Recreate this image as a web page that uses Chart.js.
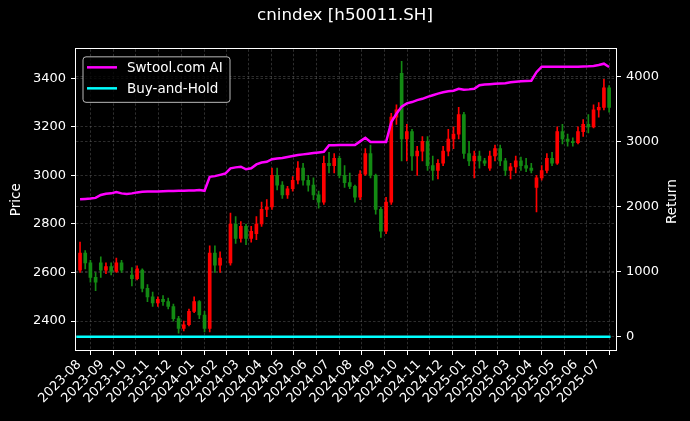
<!DOCTYPE html>
<html lang="en">
<head>
<meta charset="UTF-8">
<title>cnindex [h50011.SH]</title>
<script src="https://cdn.jsdelivr.net/npm/chart.js@4"></script>
<style>
  body { margin: 0; background: #000; }
  #wrap { width: 690px; height: 421px; position: relative; }
</style>
</head>
<body>
<div id="wrap"><canvas id="chart"></canvas></div>
<script>
const TITLE = 'cnindex [h50011.SH]';

// weekly candles (Monday of each week)
const WEEKS = [
  '2023-07-31','2023-08-07','2023-08-14','2023-08-21','2023-08-28','2023-09-04','2023-09-11','2023-09-18','2023-09-25','2023-10-02',
  '2023-10-09','2023-10-16','2023-10-23','2023-10-30','2023-11-06','2023-11-13','2023-11-20','2023-11-27','2023-12-04','2023-12-11',
  '2023-12-18','2023-12-25','2024-01-01','2024-01-08','2024-01-15','2024-01-22','2024-01-29','2024-02-05','2024-02-12','2024-02-19',
  '2024-02-26','2024-03-04','2024-03-11','2024-03-18','2024-03-25','2024-04-01','2024-04-08','2024-04-15','2024-04-22','2024-04-29',
  '2024-05-06','2024-05-13','2024-05-20','2024-05-27','2024-06-03','2024-06-10','2024-06-17','2024-06-24','2024-07-01','2024-07-08',
  '2024-07-15','2024-07-22','2024-07-29','2024-08-05','2024-08-12','2024-08-19','2024-08-26','2024-09-02','2024-09-09','2024-09-16',
  '2024-09-23','2024-09-30','2024-10-07','2024-10-14','2024-10-21','2024-10-28','2024-11-04','2024-11-11','2024-11-18','2024-11-25',
  '2024-12-02','2024-12-09','2024-12-16','2024-12-23','2024-12-30','2025-01-06','2025-01-13','2025-01-20','2025-01-27','2025-02-03',
  '2025-02-10','2025-02-17','2025-02-24','2025-03-03','2025-03-10','2025-03-17','2025-03-24','2025-03-31','2025-04-07','2025-04-14',
  '2025-04-21','2025-04-28','2025-05-05','2025-05-12','2025-05-19','2025-05-26','2025-06-02','2025-06-09','2025-06-16','2025-06-23',
  '2025-06-30','2025-07-07','2025-07-14'
];

const OPEN = [
  2610,2680,2640,2580,2640,2610,2625,2605,2640,null,
  2590,2575,2610,2535,2500,2475,2490,2480,2460,2410,
  2370,2385,2440,2480,2425,2370,2680,2630,null,2640,
  2800,2740,2790,2740,2760,2800,2860,2870,3000,2960,
  2920,2945,2980,3030,2980,2960,2920,2890,3050,3040,
  3070,3000,2970,2955,2910,3005,3090,3000,2860,2770,
  2890,3240,3420,3150,3180,3080,3100,3140,3040,3020,
  3050,3100,3150,3170,3250,3090,3060,3080,3060,3030,
  3080,3110,3060,3020,3035,3060,3040,3030,2950,2990,
  3020,3070,3050,3180,3150,3140,3135,3180,3210,3200,
  3270,3280,3360
];
const HIGH = [
  2725,2690,2650,2600,2665,2640,2640,2660,2650,null,
  2620,2628,2615,2550,2520,2500,2505,2495,2470,2420,
  2400,2450,2500,2485,2440,2710,2710,2685,null,2845,
  2830,2810,2800,2790,2830,2890,2900,3030,3030,2975,
  2955,2995,3057,3050,3000,2990,2935,3080,3095,3090,
  3080,3040,3010,2960,3020,3110,3125,3005,2870,2910,
  3255,3290,3470,3210,3190,3120,3160,3160,3080,3065,
  3120,3190,3200,3280,3260,3140,3100,3100,3070,3100,
  3125,3125,3070,3050,3080,3075,3070,3050,3000,3040,
  3090,3095,3200,3210,3170,3155,3200,3230,3250,3290,
  3300,3395,3370
];
const LOW = [
  2600,2615,2560,2525,2580,2595,2590,2600,2600,null,
  2545,2570,2520,2480,2460,2460,2465,2450,2400,2350,
  2360,2380,2435,2410,2355,2355,2600,2600,null,2630,
  2720,2725,2715,2725,2735,2790,2830,2860,2940,2905,
  2905,2935,2965,2960,2935,2900,2865,2880,3010,3010,
  2990,2950,2945,2890,2900,3000,2990,2840,2745,2760,
  2880,3210,3060,3060,3020,3000,3060,3020,2980,2985,
  3040,3080,3110,3150,3070,3040,2990,3030,3040,3020,
  3060,3040,3000,2985,3010,3020,3015,3010,2850,2980,
  3010,3040,3045,3130,3120,3120,3130,3160,3175,3195,
  3240,3270,3260
];
const CLOSE = [
  2680,2640,2580,2560,2610,2625,2605,2640,2610,null,
  2575,2615,2535,2500,2475,2490,2480,2460,2410,2370,
  2385,2440,2480,2425,2370,2680,2630,2660,null,2800,
  2740,2790,2740,2770,2800,2860,2870,3000,2960,2920,
  2945,2980,3030,2980,2960,2920,2890,3050,3040,3070,
  3000,2970,2955,2910,3005,3090,3000,2860,2770,2890,
  3240,3270,3150,3180,3080,3100,3140,3040,3020,3050,
  3100,3150,3170,3250,3090,3060,3080,3060,3050,3080,
  3110,3060,3020,3035,3060,3040,3030,3020,2990,3020,
  3070,3050,3180,3150,3140,3135,3180,3210,3200,3270,
  3280,3360,3280
];

// strategy equity curve (right axis)
const AI_RETURN = [
  2114,2120,2125,2135,2180,2200,2205,2225,2205,2195,
  2205,2220,2230,2232,2235,2235,2238,2240,2242,2244,
  2246,2248,2250,2255,2245,2460,2470,2490,2510,2590,
  2605,2615,2575,2590,2650,2680,2690,2730,2740,2750,
  2765,2780,2795,2805,2815,2825,2835,2845,2945,2945,
  2948,2949,2950,2950,3005,3060,2995,2995,2995,2995,
  3300,3430,3540,3590,3610,3640,3660,3690,3715,3740,
  3760,3775,3785,3815,3800,3805,3815,3870,3880,3885,
  3890,3895,3900,3915,3922,3930,3935,3938,4070,4154,
  4155,4155,4155,4155,4155,4155,4155,4158,4160,4165,
  4180,4200,4150
];
const BH_DATES = ['2023-07-28', '2025-07-18'];
const BH_RETURN = [0, 0];

const MONTHS = [
  '2023-08','2023-09','2023-10','2023-11','2023-12','2024-01','2024-02','2024-03',
  '2024-04','2024-05','2024-06','2024-07','2024-08','2024-09','2024-10','2024-11',
  '2024-12','2025-01','2025-02','2025-03','2025-04','2025-05','2025-06','2025-07'
];
const PRICE_TICKS = [2400, 2600, 2800, 3000, 3200, 3400];
const RETURN_TICKS = [0, 1000, 2000, 3000, 4000];

const UP = '#ff0000';
const DOWN = '#138a13';
const GRID = 'rgba(128,128,128,0.5)';
const FONT = 'DejaVu Sans';

function dayNum(s) {
  const p = s.split('-').map(Number);
  return Date.UTC(p[0], p[1] - 1, p[2] || 1) / 86400000;
}

const idx = WEEKS.map((w, i) => i).filter(i => OPEN[i] !== null);
const bodies = idx.map(i => ({ x: dayNum(WEEKS[i]) + 2, y: [OPEN[i], CLOSE[i]] }));
const wicks = idx.map(i => ({ x: dayNum(WEEKS[i]) + 2, y: [LOW[i], HIGH[i]] }));
const colors = idx.map(i => CLOSE[i] >= OPEN[i] ? UP : DOWN);
const aiLine = WEEKS.map((w, i) => ({ x: dayNum(w) + 2, y: AI_RETURN[i] }));
const bhLine = BH_DATES.map((d, i) => ({ x: dayNum(d), y: BH_RETURN[i] }));

const monthLabel = {};
MONTHS.forEach(m => { monthLabel[dayNum(m + '-01')] = m; });

Chart.defaults.font.family = FONT;
Chart.defaults.color = '#fff';

const overlay = {
  id: 'overlay',
  afterDraw(chart) {
    const ctx = chart.ctx, a = chart.chartArea;
    ctx.save();
    // frame
    ctx.strokeStyle = '#fff';
    ctx.lineWidth = 1;
    ctx.strokeRect(Math.round(a.left) - 0.5, Math.round(a.top) - 0.5,
      Math.round(a.right - a.left) + 1, Math.round(a.bottom - a.top) + 1);

    // right axis title
    ctx.fillStyle = '#fff';
    ctx.font = '13.5px "' + FONT + '"';
    ctx.textAlign = 'center';
    ctx.textBaseline = 'middle';
    ctx.save();
    ctx.translate(chart.width - 18, (a.top + a.bottom) / 2 + 2);
    ctx.rotate(-Math.PI / 2);
    ctx.fillText('Return', 0, 0);
    ctx.restore();

    // legend
    const bx = a.left + 7, by = a.top + 7.5, bw = 147, bh = 45.5;
    ctx.beginPath();
    ctx.roundRect(bx, by, bw, bh, 3);
    ctx.fillStyle = 'rgba(0,0,0,0.8)';
    ctx.fill();
    ctx.strokeStyle = 'rgba(204,204,204,0.9)';
    ctx.stroke();
    const items = chart.data.datasets.filter(d => d.type === 'line');
    items.forEach((d, k) => {
      const y = by + 10.5 + k * 21;
      ctx.beginPath();
      ctx.moveTo(bx + 4, y);
      ctx.lineTo(bx + 34, y);
      ctx.strokeStyle = d.borderColor;
      ctx.lineWidth = 2.5;
      ctx.stroke();
      ctx.fillStyle = '#fff';
      ctx.textAlign = 'left';
      ctx.fillText(d.label, bx + 44, y + 1);
    });
    ctx.restore();
  }
};

const plain = v => String(v);

new Chart(document.getElementById('chart'), {
  type: 'bar',
  data: {
    datasets: [
      {
        type: 'line', label: 'Swtool.com AI', data: aiLine, yAxisID: 'yR',
        borderColor: '#ff00ff', borderWidth: 2.5, pointRadius: 0, tension: 0, order: 0
      },
      {
        type: 'line', label: 'Buy-and-Hold', data: bhLine, yAxisID: 'yR',
        borderColor: '#00ffff', borderWidth: 2.5, pointRadius: 0, tension: 0, order: 1
      },
      {
        label: 'body', data: bodies, yAxisID: 'y', backgroundColor: colors,
        barThickness: 3, minBarLength: 1, grouped: false, order: 2
      },
      {
        label: 'wick', data: wicks, yAxisID: 'y', backgroundColor: colors,
        barThickness: 1, grouped: false, order: 3
      }
    ]
  },
  options: {
    responsive: true,
    maintainAspectRatio: false,
    animation: false,
    devicePixelRatio: 1,
    plugins: {
      legend: { display: false },
      tooltip: { enabled: false },
      title: {
        display: true, text: TITLE, color: '#fff',
        font: { size: 16.7, weight: 'normal' },
        padding: { top: 6, bottom: 23.3 }
      }
    },
    scales: {
      x: {
        type: 'linear', offset: false,
        min: dayNum('2023-07-27') + 0.55, max: dayNum('2025-07-25') + 0.3,
        afterBuildTicks: s => { s.ticks = MONTHS.map(m => ({ value: dayNum(m + '-01') })); },
        afterFit: s => { s.height = 71; },
        ticks: {
          autoSkip: false, minRotation: 45, maxRotation: 45, padding: 2,
          color: '#fff', font: { size: 13 },
          callback: v => monthLabel[v] || ''
        },
        grid: { color: GRID, lineWidth: 0.7, tickColor: '#fff', tickLength: 5, tickWidth: 1 },
        border: { display: false, dash: [2.5, 2] }
      },
      y: {
        position: 'left', min: 2281, max: 3519,
        afterBuildTicks: s => { s.ticks = PRICE_TICKS.map(v => ({ value: v })); },
        afterFit: s => { s.width = 76; },
        ticks: { color: '#fff', font: { size: 13 }, padding: 5, callback: plain },
        grid: { color: GRID, lineWidth: 0.7, tickColor: '#fff', tickLength: 5, tickWidth: 1 },
        border: { display: false, dash: [2.5, 2] },
        title: { display: true, text: 'Price', color: '#fff', font: { size: 13.5 }, padding: { top: 8.6, bottom: 0 } }
      },
      yR: {
        position: 'right', min: -205, max: 4421,
        afterBuildTicks: s => { s.ticks = RETURN_TICKS.map(v => ({ value: v })); },
        afterFit: s => { s.width = 74; },
        ticks: { color: '#fff', font: { size: 13 }, padding: 5, callback: plain },
        grid: { color: GRID, lineWidth: 0.7, tickColor: '#fff', tickLength: 5, tickWidth: 1 },
        border: { display: false, dash: [2.5, 2] }
      }
    }
  },
  plugins: [overlay]
});
</script>
</body>
</html>
